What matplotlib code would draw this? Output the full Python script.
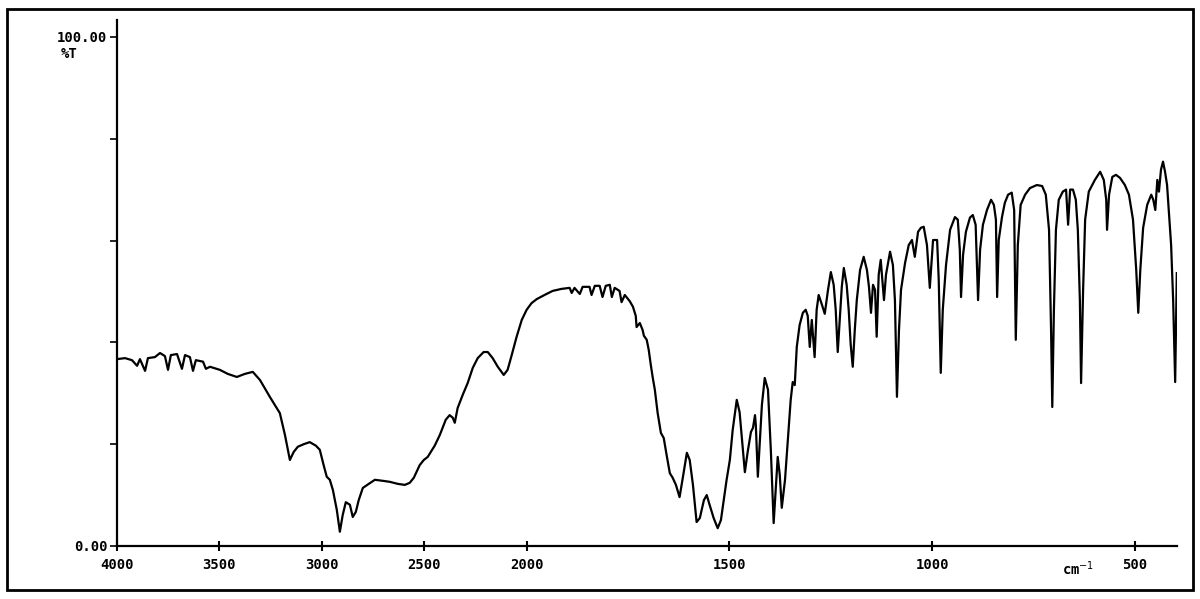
import numpy as np
import matplotlib
matplotlib.use('Agg')
import matplotlib.pyplot as plt
from matplotlib.patches import Rectangle

# IR spectrum: wavenumber (cm-1) and transmittance (%T)
wavenumber = [4000, 3961, 3927, 3902, 3888, 3863, 3849, 3815, 3790, 3766, 3751, 3737, 3707, 3683, 3668,
              3644, 3629, 3615, 3580, 3566, 3546, 3498, 3459, 3415, 3376, 3337, 3302, 3254, 3205, 3180,
              3156, 3137, 3117, 3088, 3059, 3029, 3010, 2990, 2976, 2961, 2946, 2927, 2912, 2898, 2883,
              2863, 2849, 2834, 2820, 2800, 2771, 2741, 2702, 2668, 2629, 2595, 2571, 2551, 2522, 2502,
              2483, 2449, 2424, 2395, 2376, 2361, 2351, 2337, 2312, 2288, 2263, 2239, 2210, 2190, 2166,
              2141, 2112, 2093, 2073, 2049, 2024, 2000, 1988, 1975, 1956, 1936, 1914, 1894, 1889, 1882,
              1869, 1862, 1845, 1840, 1832, 1820, 1813, 1805, 1795, 1790, 1783, 1771, 1766, 1758, 1746,
              1738, 1731, 1729, 1721, 1714, 1711, 1704, 1699, 1694, 1689, 1684, 1677, 1669, 1662, 1655,
              1647, 1640, 1632, 1623, 1615, 1605, 1598, 1590, 1581, 1573, 1563, 1556, 1549, 1539, 1529,
              1521, 1514, 1507, 1499, 1492, 1482, 1475, 1467, 1462, 1455, 1447, 1442, 1437, 1435, 1430,
              1425, 1420, 1413, 1405, 1398, 1391, 1386, 1381, 1376, 1371, 1363, 1356, 1349, 1344, 1339,
              1334, 1327, 1319, 1312, 1307, 1302, 1297, 1290, 1285, 1280, 1272, 1265, 1257, 1250, 1243,
              1238, 1233, 1228, 1223, 1218, 1211, 1206, 1201, 1196, 1191, 1186, 1178, 1169, 1161, 1156,
              1151, 1146, 1141, 1137, 1132, 1127, 1119, 1114, 1104, 1097, 1092, 1087, 1082, 1077, 1067,
              1058, 1050, 1043, 1035, 1028, 1021, 1013, 1006, 998, 988, 984, 979, 974, 966, 956,
              944, 937, 932, 929, 924, 917, 907, 900, 893, 887, 882, 875, 865, 855, 848,
              843, 840, 836, 828, 821, 813, 804, 798, 794, 789, 782, 771, 759, 742, 729,
              720, 712, 707, 704, 700, 695, 688, 678, 670, 665, 660, 653, 646, 641, 636,
              633, 628, 623, 614, 599, 586, 577, 571, 569, 564, 556, 547, 537, 525, 515,
              505, 497, 492, 487, 480, 470, 460, 455, 450, 445, 441, 436, 431, 426, 421,
              416, 411, 406, 401, 397]
transmittance = [36.7, 36.9, 36.5, 35.4, 36.7, 34.4, 36.9, 37.1, 37.9, 37.3, 34.6, 37.5, 37.7, 34.8, 37.5,
                 37.1, 34.4, 36.5, 36.2, 34.8, 35.2, 34.6, 33.8, 33.2, 33.8, 34.2, 32.6, 29.3, 26.1, 21.8,
                 16.9, 18.5, 19.5, 20.0, 20.4, 19.7, 18.9, 15.7, 13.6, 13.0, 11.0, 7.1, 2.8, 6.1, 8.6,
                 8.1, 5.7, 6.7, 9.0, 11.4, 12.2, 13.0, 12.8, 12.6, 12.2, 12.0, 12.4, 13.4, 15.9, 16.9,
                 17.5, 19.7, 21.8, 24.8, 25.7, 25.2, 24.2, 27.1, 29.7, 32.0, 35.0, 36.9, 38.1, 38.1, 36.9,
                 35.2, 33.6, 34.6, 37.5, 41.1, 44.4, 46.4, 47.7, 48.5, 49.3, 50.1, 50.5, 50.7, 49.7, 50.7,
                 49.5, 50.9, 50.9, 49.3, 51.1, 51.1, 48.9, 51.1, 51.3, 48.9, 50.7, 50.1, 47.9, 49.3, 48.1,
                 47.0, 45.2, 43.0, 43.8, 42.4, 41.3, 40.5, 38.5, 35.6, 33.0, 30.7, 26.1, 22.2, 21.2, 17.9,
                 14.3, 13.4, 12.0, 9.6, 13.4, 18.3, 16.9, 12.0, 4.7, 5.5, 9.0, 10.0, 8.1, 5.5, 3.5,
                 5.1, 9.0, 13.0, 16.9, 22.8, 28.7, 26.3, 18.9, 14.5, 18.5, 22.4, 23.2, 25.7, 23.8, 13.6,
                 20.8, 27.7, 33.0, 30.7, 18.9, 4.5, 11.0, 17.5, 14.0, 7.5, 13.0, 20.8, 28.7, 32.2, 31.6,
                 39.1, 43.4, 45.8, 46.4, 45.2, 39.1, 44.4, 37.1, 46.4, 49.3, 47.4, 45.6, 50.3, 53.8, 51.3,
                 46.4, 38.1, 44.4, 50.9, 54.6, 51.3, 46.4, 39.5, 35.2, 42.4, 48.3, 54.2, 56.8, 54.2, 50.9,
                 45.8, 51.3, 50.3, 41.1, 53.3, 56.2, 48.3, 53.3, 57.8, 55.2, 48.3, 29.3, 42.4, 50.3, 55.6,
                 59.1, 60.1, 56.8, 61.7, 62.5, 62.7, 59.1, 50.7, 60.1, 60.1, 52.3, 34.0, 46.4, 55.2, 62.1,
                 64.6, 64.1, 58.2, 48.9, 57.2, 61.7, 64.5, 65.0, 63.1, 48.3, 58.2, 63.1, 66.0, 68.0, 67.0,
                 64.1, 48.9, 60.1, 64.6, 67.4, 69.0, 69.4, 66.0, 40.5, 59.1, 67.0, 69.0, 70.3, 70.9, 70.7,
                 69.0, 62.1, 42.4, 27.3, 46.4, 62.1, 68.0, 69.6, 70.0, 63.1, 70.0, 70.0, 68.0, 62.1, 48.3,
                 32.0, 50.3, 64.1, 69.6, 71.9, 73.5, 71.9, 68.0, 62.1, 69.0, 72.5, 72.9, 72.3, 70.9, 69.0,
                 64.1, 54.2, 45.8, 54.2, 62.5, 67.0, 69.0, 68.0, 66.0, 71.9, 69.6, 73.9, 75.5, 73.5, 70.9,
                 65.0, 59.1, 48.3, 32.2, 53.6]

x_ticks = [4000, 3500, 3000, 2500, 2000, 1500, 1000, 500]
y_ticks = [0, 20, 40, 60, 80, 100]
y_labels = ['0.00', '', '', '', '', '100.00']

# grating change at 2000 cm-1: the low wavenumber half is stretched
STRETCH = 1.98


def forward(w):
    w = np.asarray(w, dtype=float)
    return np.where(w >= 2000, w, 2000 - STRETCH * (2000 - w))


def inverse(u):
    u = np.asarray(u, dtype=float)
    return np.where(u >= 2000, u, 2000 - (2000 - u) / STRETCH)


font = dict(family='DejaVu Sans Mono', weight='bold', size=10)

fig = plt.figure(figsize=(12, 5.99), dpi=100)
ax = fig.add_axes([0.0975, 0.0885, 0.8835, 0.878])
ax.plot(wavenumber, transmittance, color='black', lw=1.6)

ax.set_xscale('function', functions=(forward, inverse))
ax.set_xlim(4000, 396)
ax.set_ylim(0, 103.3)

ax.set_xticks(x_ticks)
ax.set_xticklabels([str(t) for t in x_ticks], fontdict=font)
ax.set_yticks(y_ticks)
ax.set_yticklabels(y_labels, fontdict=font)
ax.minorticks_off()
ax.tick_params(axis='x', direction='inout', length=7, width=1.5, pad=5)
ax.tick_params(axis='y', direction='out', length=5, width=1.2, pad=2)

for s in ['top', 'right']:
    ax.spines[s].set_visible(False)
for s in ['left', 'bottom']:
    ax.spines[s].set_linewidth(1.6)

ax.text(-0.045, 96.7, '%T', transform=ax.get_yaxis_transform(), ha='center', va='center', **font)
ax.text(640, -0.044, 'cm$^{-1}$', transform=ax.get_xaxis_transform(), ha='center', va='center',
        family='DejaVu Sans Mono', weight='bold', size=10)

fig.patches.append(Rectangle((0.006, 0.015), 0.988, 0.97, transform=fig.transFigure,
                             fill=False, edgecolor='black', lw=2))

fig.savefig('out.png', dpi=100, facecolor='white')
